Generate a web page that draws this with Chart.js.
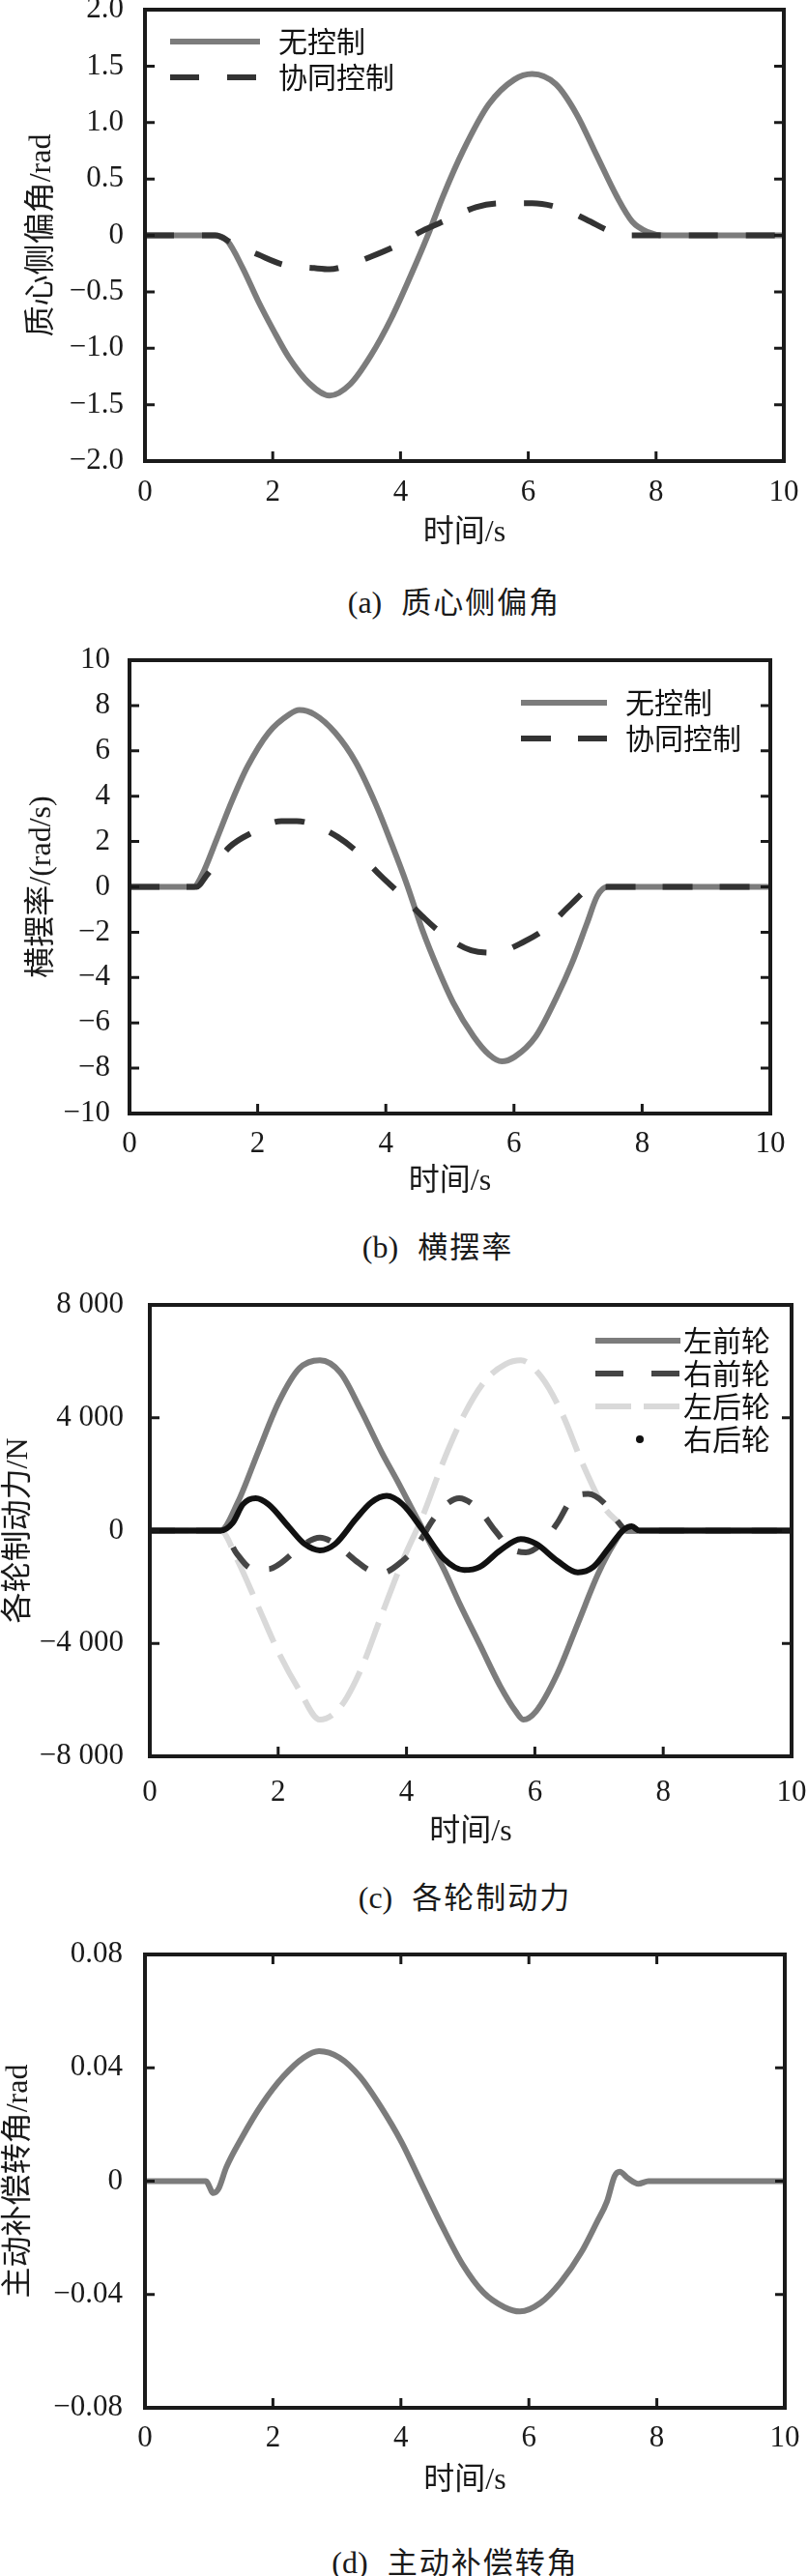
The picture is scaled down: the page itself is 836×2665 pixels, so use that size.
<!DOCTYPE html>
<html>
<head>
<meta charset="utf-8">
<script src="https://cdn.jsdelivr.net/npm/chart.js@4.4.1/dist/chart.umd.min.js"></script>
<style>
  body { margin: 0; background: #fff; width: 836px; height: 2665px; position: relative; overflow: hidden; }
  canvas { position: absolute; left: 0; }
  .cap { position: absolute; transform: translate(-50%, -50%); white-space: nowrap;
         font: 32px 'Liberation Serif', 'Noto Sans CJK SC', serif; color: #1a1a1a; line-height: 40px; }
  .cap .zh { margin-left: 20px; letter-spacing: 2px; font-family: 'Noto Sans CJK SC', sans-serif; font-size: 31px; }
</style>
</head>
<body>
<canvas id="chartA" width="836" height="600" style="top:-20px"></canvas>
<canvas id="chartB" width="836" height="601" style="top:650px"></canvas>
<canvas id="chartC" width="836" height="604" style="top:1320px"></canvas>
<canvas id="chartD" width="836" height="605" style="top:1990px"></canvas>
<div class="cap" style="left:470px;top:622px">(a)<span class="zh">质心侧偏角</span></div>
<div class="cap" style="left:453px;top:1289px">(b)<span class="zh">横摆率</span></div>
<div class="cap" style="left:481px;top:1962px">(c)<span class="zh">各轮制动力</span></div>
<div class="cap" style="left:471px;top:2650px">(d)<span class="zh">主动补偿转角</span></div>
<script>
// shared x axis (time, s)
const xTickLabels = ['0', '2', '4', '6', '8', '10'];

// (a) sideslip angle, rad
const aTickLabels = ['\u22122.0', '\u22121.5', '\u22121.0', '\u22120.5', '0', '0.5', '1.0', '1.5', '2.0'];
const aTimeNone = [0, 1.0, 1.1, 1.29, 1.53, 1.77, 2.01, 2.25, 2.57, 2.89, 3.21, 3.53, 3.86, 4.18, 4.42, 4.66, 4.98, 5.38, 5.78, 6.06, 6.43, 6.75, 7.07, 7.39, 7.63, 7.87, 8.11, 10];
const aNone = [0, 0, 0, -0.05, -0.29, -0.58, -0.84, -1.08, -1.31, -1.42, -1.32, -1.07, -0.73, -0.33, -0.01, 0.34, 0.75, 1.16, 1.38, 1.43, 1.34, 1.08, 0.71, 0.34, 0.12, 0.03, 0, 0];
const aTimeCoop = [0, 1.1, 1.4, 1.77, 2.17, 2.65, 2.89, 3.09, 3.53, 3.94, 4.34, 4.74, 5.18, 5.58, 6.06, 6.51, 6.91, 7.31, 7.55, 10];
const aCoop = [0, 0, -0.08, -0.17, -0.26, -0.29, -0.30, -0.28, -0.19, -0.09, 0.04, 0.14, 0.25, 0.285, 0.285, 0.24, 0.14, 0.03, 0, 0];

// (b) yaw rate, rad/s
const bTickLabels = ['\u221210', '\u22128', '\u22126', '\u22124', '\u22122', '0', '2', '4', '6', '8', '10'];
const bTimeNone = [0, 1.0, 1.12, 1.36, 1.60, 1.84, 2.17, 2.49, 2.65, 2.89, 3.21, 3.53, 3.85, 4.09, 4.33, 4.57, 4.81, 5.05, 5.37, 5.61, 5.81, 6.01, 6.34, 6.66, 6.90, 7.14, 7.30, 7.46, 10];
const bNone = [0, 0, 0.46, 2.1, 3.8, 5.3, 6.8, 7.6, 7.8, 7.6, 6.8, 5.5, 3.6, 1.9, 0.1, -1.9, -3.6, -5.1, -6.6, -7.4, -7.7, -7.5, -6.6, -4.9, -3.4, -1.6, -0.4, 0, 0];
const bTimeCoop = [0, 1.05, 1.2, 1.56, 1.92, 2.37, 2.61, 2.81, 3.25, 3.57, 3.93, 4.21, 4.57, 4.85, 5.33, 5.69, 6.17, 6.49, 6.90, 7.18, 7.3, 10];
const bCoop = [0, 0, 0.5, 1.76, 2.4, 2.9, 2.9, 2.8, 2.2, 1.5, 0.46, -0.28, -1.3, -2.0, -2.8, -2.9, -2.4, -1.85, -0.74, -0.05, 0, 0];

// (c) braking force per wheel, N
const cTickLabels = ['\u22128 000', '\u22124 000', '0', '4 000', '8 000'];
const cTimeLF = [0, 1.1, 1.37, 1.69, 2.01, 2.33, 2.65, 2.97, 3.29, 3.61, 3.86, 4.10, 4.34, 4.58, 4.82, 5.14, 5.46, 5.70, 5.82, 6.02, 6.35, 6.67, 6.99, 7.23, 7.39, 10];
const cLF = [0, 0, 1000, 2800, 4560, 5750, 6040, 5600, 4270, 2790, 1750, 710, -330, -1360, -2550, -4030, -5510, -6400, -6700, -6400, -5070, -3290, -1510, -470, 0, 0];
const cTimeRF = [0, 1.13, 1.35, 1.61, 1.85, 2.01, 2.41, 2.65, 2.89, 3.21, 3.45, 3.61, 3.94, 4.18, 4.42, 4.66, 4.82, 5.14, 5.38, 5.62, 5.86, 6.10, 6.35, 6.59, 6.83, 7.07, 7.31, 7.43, 10];
const cRF = [0, 0, -800, -1360, -1360, -1200, -470, -250, -470, -1070, -1440, -1500, -1070, -470, 410, 1000, 1150, 710, 0, -620, -770, -470, 270, 1150, 1300, 1000, 270, 0, 0];
const cTimeLR = [0, 1.1, 1.37, 1.69, 2.01, 2.33, 2.65, 2.97, 3.29, 3.61, 3.94, 4.26, 4.58, 4.90, 5.22, 5.54, 5.78, 6.10, 6.43, 6.75, 7.07, 7.31, 7.43, 10];
const cLR = [0, 0, -1070, -2700, -4330, -5660, -6700, -6250, -4920, -3000, -1070, 560, 2490, 4120, 5300, 5900, 6040, 5450, 4120, 2340, 860, 270, 0, 0];
const cTimeRR = [0, 1.1, 1.29, 1.45, 1.65, 1.85, 2.17, 2.41, 2.65, 2.89, 3.21, 3.45, 3.69, 3.94, 4.26, 4.58, 4.90, 5.14, 5.46, 5.78, 6.02, 6.35, 6.67, 6.91, 7.15, 7.39, 7.51, 7.63, 10];
const cRR = [0, 0, 270, 930, 1150, 930, 120, -470, -700, -470, 410, 1000, 1230, 930, 0, -1000, -1400, -1290, -700, -300, -470, -1070, -1480, -1290, -620, 40, 150, 0, 0];

// (d) active compensation steering angle, rad
const dTickLabels = ['\u22120.08', '\u22120.04', '0', '0.04', '0.08'];
const dTime = [0, 0.95, 1.07, 1.15, 1.27, 1.51, 1.83, 2.16, 2.48, 2.72, 3.04, 3.36, 3.68, 4.01, 4.33, 4.65, 4.97, 5.29, 5.62, 5.86, 6.18, 6.50, 6.82, 7.06, 7.22, 7.34, 7.42, 7.55, 7.71, 7.87, 10];
const dAngle = [0, 0, -0.0042, -0.0027, 0.0048, 0.0152, 0.0272, 0.0369, 0.0436, 0.0459, 0.0436, 0.0369, 0.0265, 0.0138, -0.0012, -0.0161, -0.0296, -0.0393, -0.0445, -0.046, -0.043, -0.0356, -0.0251, -0.0146, -0.0072, 0.0018, 0.0033, 0.001, -0.0009, 0, 0];

const pts = (t, v) => t.map((x, i) => ({ x: x, y: v[i] }));

const serif = "'Liberation Serif', 'Times New Roman', 'Noto Sans CJK SC', serif";
const ink = '#1a1a1a';

// frame box + inward tick marks
const framePlugin = {
  id: 'frame',
  afterDraw(chart, args, opts) {
    const { ctx, chartArea: a, scales: { x, y } } = chart;
    const len = 10;
    ctx.save();
    ctx.strokeStyle = ink;
    ctx.lineWidth = 3;
    ctx.beginPath();
    y.ticks.forEach(t => {
      if (t.value <= y.min || t.value >= y.max) return;
      const py = y.getPixelForValue(t.value);
      ctx.moveTo(a.left, py); ctx.lineTo(a.left + len, py);
      ctx.moveTo(a.right, py); ctx.lineTo(a.right - len, py);
    });
    x.ticks.forEach(t => {
      if (t.value <= x.min || t.value >= x.max) return;
      const px = x.getPixelForValue(t.value);
      ctx.moveTo(px, a.bottom); ctx.lineTo(px, a.bottom - len);
      if (opts.top) { ctx.moveTo(px, a.top); ctx.lineTo(px, a.top + len); }
    });
    ctx.stroke();
    ctx.lineWidth = 4;
    ctx.strokeRect(a.left, a.top, a.width, a.height);
    ctx.restore();
  }
};

// legend drawn from the datasets' own styles
const legendPlugin = {
  id: 'lineLegend',
  afterDraw(chart, args, opts) {
    if (!opts.show) return;
    const ctx = chart.ctx;
    chart.data.datasets.forEach((ds, i) => {
      const y = opts.y + i * opts.rowH;
      ctx.save();
      if (ds.legendDot) {
        ctx.fillStyle = '#111';
        ctx.beginPath();
        ctx.arc(opts.x + opts.len / 2 + 2, y, 4, 0, Math.PI * 2);
        ctx.fill();
      } else {
        ctx.strokeStyle = ds.borderColor;
        ctx.lineWidth = ds.borderWidth;
        ctx.setLineDash(ds.legendDash || ds.borderDash || []);
        ctx.beginPath();
        ctx.moveTo(opts.x, y);
        ctx.lineTo(opts.x + opts.len, y);
        ctx.stroke();
      }
      ctx.setLineDash([]);
      ctx.fillStyle = '#111';
      ctx.font = "30px 'Noto Sans CJK SC', sans-serif";
      ctx.textBaseline = 'middle';
      ctx.fillText(ds.label, opts.textX, y);
      ctx.restore();
    });
  }
};

function makePanel(id, p) {
  const ticksFont = { family: serif, size: 31 };
  const titleFont = { family: serif, size: 32 };
  return new Chart(document.getElementById(id), {
    type: 'line',
    data: { datasets: p.datasets },
    plugins: [framePlugin, legendPlugin],
    options: {
      responsive: false,
      animation: false,
      events: [],
      layout: { padding: { top: p.padTop, right: p.padRight, left: 0, bottom: 0 } },
      elements: { point: { radius: 0 }, line: { cubicInterpolationMode: 'monotone' } },
      plugins: {
        legend: { display: false },
        tooltip: { enabled: false },
        frame: { top: !!p.topTicks },
        lineLegend: p.legend || { show: false }
      },
      scales: {
        x: {
          type: 'linear', min: 0, max: 10,
          grid: { display: false, drawTicks: false },
          border: { display: false },
          ticks: { stepSize: 2, padding: p.xTickPad, font: ticksFont, color: ink,
                   callback: (v, i) => xTickLabels[i] },
          title: { display: true, text: '时间/s', font: titleFont, color: ink, padding: { top: 0, bottom: 9 } },
          afterFit: s => { s.height = p.xAxisH; s.paddingLeft = 0; s.paddingRight = 0; }
        },
        y: {
          type: 'linear', min: p.yMin, max: p.yMax,
          grid: { display: false, drawTicks: false },
          border: { display: false },
          ticks: { stepSize: p.yStep, padding: p.yTickPad, font: ticksFont, color: ink,
                   callback: (v, i) => p.yLabels[i] },
          title: { display: true, text: p.yTitle, font: titleFont, color: ink, padding: { top: p.yTitlePad, bottom: 0 } },
          afterFit: s => { s.width = p.yAxisW; s.paddingTop = 0; s.paddingBottom = 0; }
        }
      }
    }
  });
}

const gray = '#7c7c7c';
const dark = '#333333';

makePanel('chartA', {
  padTop: 30, padRight: 25, yAxisW: 150, xAxisH: 103, xTickPad: 14, yTickPad: 22, yTitlePad: 24,
  yMin: -2, yMax: 2, yStep: 0.5, yLabels: aTickLabels, yTitle: '质心侧偏角/rad',
  legend: { show: true, x: 176, len: 93, textX: 288, y: 63, rowH: 37 },
  datasets: [
    { label: '无控制', data: pts(aTimeNone, aNone), borderColor: gray, borderWidth: 6, order: 2 },
    { label: '协同控制', data: pts(aTimeCoop, aCoop), borderColor: dark, borderWidth: 6, borderDash: [30, 29], order: 1 }
  ]
});

makePanel('chartB', {
  padTop: 33, padRight: 39, yAxisW: 134, xAxisH: 99, xTickPad: 13, yTickPad: 20, yTitlePad: 24,
  yMin: -10, yMax: 10, yStep: 2, yLabels: bTickLabels, yTitle: '横摆率/(rad/s)',
  legend: { show: true, x: 539, len: 89, textX: 647, y: 77, rowH: 37 },
  datasets: [
    { label: '无控制', data: pts(bTimeNone, bNone), borderColor: gray, borderWidth: 6, order: 2 },
    { label: '协同控制', data: pts(bTimeCoop, bCoop), borderColor: dark, borderWidth: 6, borderDash: [31, 28], order: 1 }
  ]
});

makePanel('chartC', {
  padTop: 30, padRight: 17, yAxisW: 155, xAxisH: 107, xTickPad: 19, yTickPad: 27, yTitlePad: 0,
  yMin: -8000, yMax: 8000, yStep: 4000, yLabels: cTickLabels, yTitle: '各轮制动力/N',
  legend: { show: true, x: 616, len: 88, textX: 707, y: 67, rowH: 34 },
  datasets: [
    { label: '左前轮', data: pts(cTimeLF, cLF), borderColor: gray, borderWidth: 6, order: 1 },
    { label: '右前轮', data: pts(cTimeRF, cRF), borderColor: '#454545', borderWidth: 6, borderDash: [26, 22], legendDash: [29, 29], order: 2 },
    { label: '左后轮', data: pts(cTimeLR, cLR), borderColor: '#d9d9d9', borderWidth: 6, borderDash: [40, 14], legendDash: [37, 13], order: 3 },
    { label: '右后轮', data: pts(cTimeRR, cRR), borderColor: '#111111', borderWidth: 6, legendDot: true, order: 0 }
  ]
});

makePanel('chartD', {
  padTop: 32, padRight: 24, yAxisW: 150, xAxisH: 104, xTickPad: 13, yTickPad: 23, yTitlePad: 0,
  yMin: -0.08, yMax: 0.08, yStep: 0.04, yLabels: dTickLabels, yTitle: '主动补偿转角/rad',
  topTicks: true,
  datasets: [
    { label: '主动补偿转角', data: pts(dTime, dAngle), borderColor: gray, borderWidth: 6 }
  ]
});
</script>
</body>
</html>
